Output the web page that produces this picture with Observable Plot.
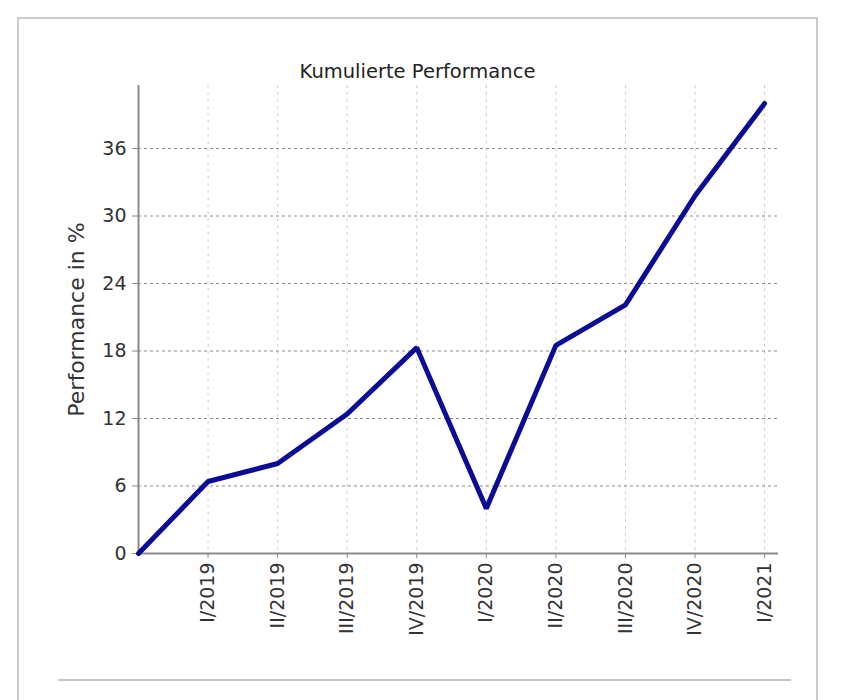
<!DOCTYPE html>
<html>
<head>
<meta charset="utf-8">
<script src="https://cdn.jsdelivr.net/npm/d3@7"></script>
<script src="https://cdn.jsdelivr.net/npm/@observablehq/plot@0.6"></script>
<style>
  html, body { margin: 0; padding: 0; background: #fff; width: 842px; height: 700px; overflow: hidden; }
  #panel { position: absolute; left: 17px; top: 17px; width: 801px; height: 700px;
           border: 2px solid #cacaca; border-bottom: none; box-sizing: border-box; }
  #title { position: absolute; left: 17px; width: 801px; top: 60px; line-height: 23px; text-align: center;
           font-family: "DejaVu Sans", sans-serif; font-size: 19.5px; color: #222; }
  #chart { position: absolute; left: 0; top: 0; }
  #sep { position: absolute; left: 58px; top: 679px; width: 733px; height: 2px; background: #c4c4c4; }
</style>
</head>
<body>
<div id="panel"></div>
<div id="chart"></div>
<div id="title">Kumulierte Performance</div>
<div id="sep"></div>
<script>
// Data
const quarters = ["", "I/2019", "II/2019", "III/2019", "IV/2019", "I/2020", "II/2020", "III/2020", "IV/2020", "I/2021"];
const performance = [0, 6.4, 8.0, 12.4, 18.3, 4.0, 18.5, 22.1, 31.8, 40.0];
const yTicks = [0, 6, 12, 18, 24, 30, 36];
const title = "Kumulierte Performance";
const yLabel = "Performance in %";

const data = quarters.map((q, i) => ({i, q, v: performance[i]}));
const xTicks = d3.range(1, quarters.length);

const font = '"DejaVu Sans", sans-serif';

const chart = Plot.plot({
  width: 842,
  height: 640,
  marginLeft: 138,
  marginRight: 64,
  marginTop: 85,
  marginBottom: 87,
  style: { fontFamily: font, fontSize: "19px", color: "#333", background: "transparent" },
  x: { domain: [0, 9.2], ticks: xTicks },
  y: { domain: [0, 41.6], ticks: yTicks },
  marks: [
    Plot.gridX(xTicks, { stroke: "#cfcfcf", strokeOpacity: 1, strokeDasharray: "3,4", strokeWidth: 1 }),
    Plot.gridY(yTicks.filter(d => d > 0), { stroke: "#8a8a8a", strokeOpacity: 1, strokeDasharray: "3,3", strokeWidth: 1 }),
    Plot.axisY(yTicks, { tickSize: 6, tickPadding: 6, stroke: "#888", fill: "#333", fontSize: 19, label: null }),
    Plot.axisY({ ticks: [], label: yLabel, labelAnchor: "center", labelArrow: "none", labelOffset: 70, fontSize: 22, fill: "#333", tickSize: 0 }),
    Plot.axisX(xTicks, { tickSize: 5, tickPadding: 4, stroke: "#888", fill: "#333", tickRotate: -90, tickFormat: i => quarters[i], label: null, fontSize: 19 }),
    Plot.ruleX([0], { stroke: "#8a8a8a", strokeWidth: 2 }),
    Plot.ruleY([0], { stroke: "#8a8a8a", strokeWidth: 2 }),
    Plot.line(data, { x: "i", y: "v", stroke: "#0b0b96", strokeWidth: 5, strokeLinejoin: "miter" })
  ]
});
document.getElementById("chart").appendChild(chart);
</script>
</body>
</html>
